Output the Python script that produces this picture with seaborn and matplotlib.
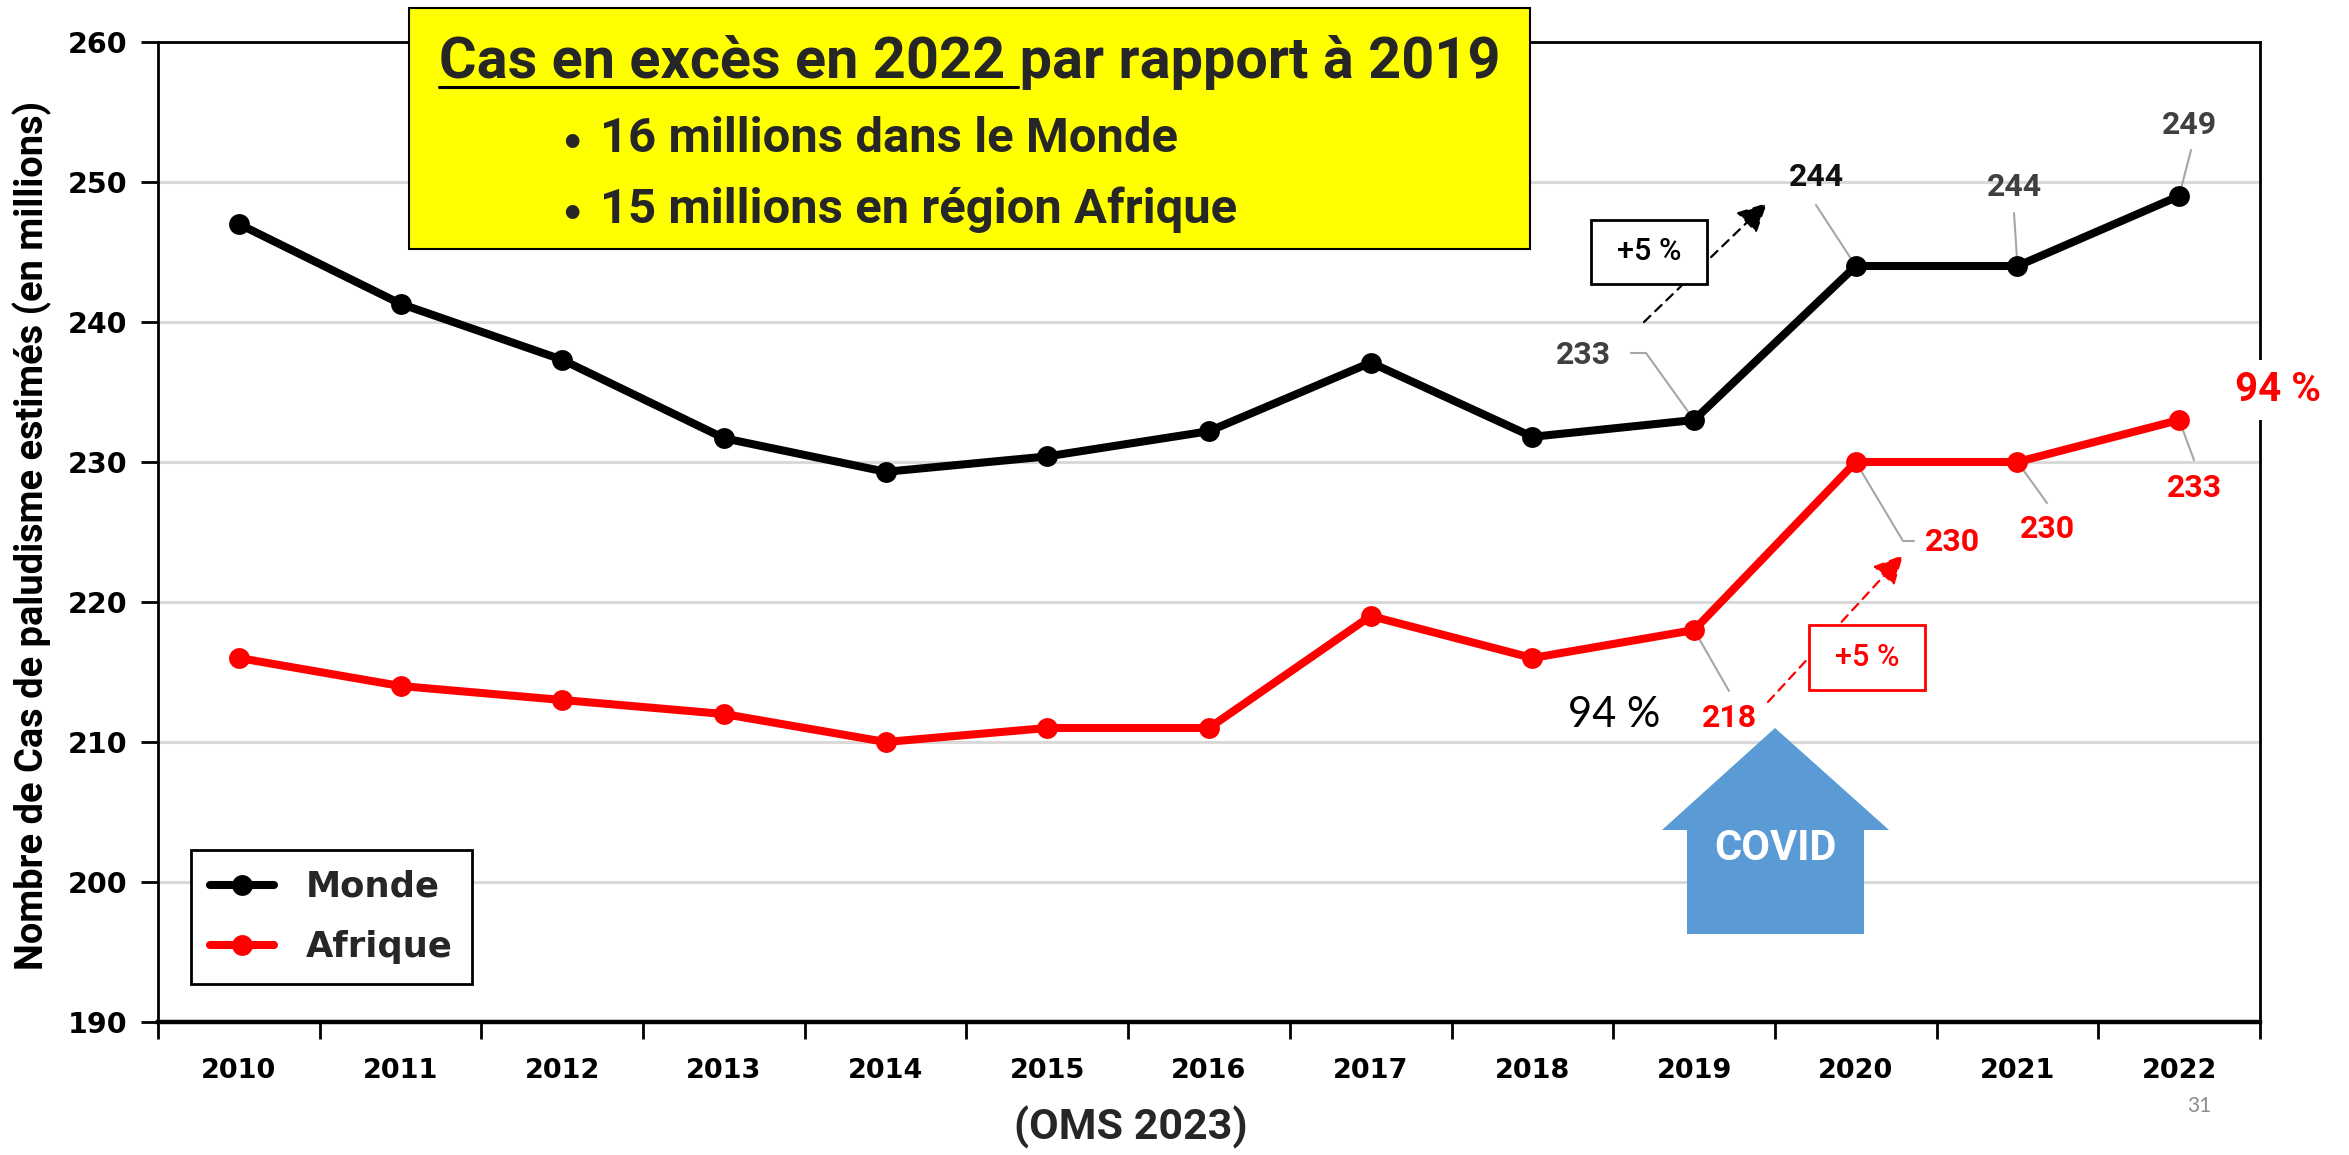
import matplotlib
matplotlib.use("Agg")
import matplotlib.pyplot as plt
from matplotlib.patches import Polygon, Rectangle
from matplotlib.lines import Line2D
import numpy as np
import pandas as pd
import seaborn as sns

# ---------------- data ----------------
years = ["2010", "2011", "2012", "2013", "2014", "2015", "2016",
         "2017", "2018", "2019", "2020", "2021", "2022"]
monde = [247.0, 241.3, 237.3, 231.7, 229.3, 230.4, 232.2, 237.1, 231.8, 233.0, 244.0, 244.0, 249.0]
afrique = [216.0, 214.0, 213.0, 212.0, 210.0, 211.0, 211.0, 219.0, 216.0, 218.0, 230.0, 230.0, 233.0]
series = ["Monde", "Afrique"]
series_colors = ["#000000", "#FF0000"]
y_ticks = [190, 200, 210, 220, 230, 240, 250, 260]
monde_labels = ["233", "244", "244", "249"]      # 2019..2022
afrique_labels = ["218", "230", "230", "233"]    # 2019..2022
title_main = "Cas en excès en 2022 par rapport à 2019"
title_underlined = "Cas en excès en 2022"
bullets = ["16 millions dans le Monde", "15 millions en région Afrique"]
y_label = "Nombre de Cas de paludisme estimés (en millions)"
pct_text = "+5 %"
share_text = "94 %"
covid_text = "COVID"
source = "(OMS 2023)"
page = "31"

# ---------------- figure ----------------
W, H = 2349, 1155
sns.set_theme(style="white")
plt.rcParams["font.family"] = ["DejaVu Sans"]
CAL = ["Roboto", "DejaVu Sans"]
CALR = ["Lato", "DejaVu Sans"]
BOLD = "bold"

fig = plt.figure(figsize=(W / 100, H / 100), dpi=100)
fig.patch.set_facecolor("white")
ax = fig.add_axes([158 / W, 1 - 1022 / H, (2260 - 158) / W, (1022 - 42) / H])
renderer = fig.canvas.get_renderer()

pos = np.arange(len(years))
df = pd.DataFrame({
    "pos": np.tile(pos, 2),
    "val": np.concatenate([monde, afrique]),
    "serie": np.repeat(series, len(years)),
})
sns.lineplot(data=df, x="pos", y="val", hue="serie",
             palette=dict(zip(series, series_colors)),
             marker="o", markersize=15, markeredgewidth=0,
             linewidth=5.8, legend=False, ax=ax, zorder=3)

ax.set_xlim(-0.5, len(years) - 0.5)
ax.set_ylim(y_ticks[0], y_ticks[-1])
ax.set_yticks(y_ticks)
ax.set_xticks(np.arange(-0.5, len(years), 1.0))
ax.set_xticklabels([])
ax.set_xticks(pos, minor=True)
ax.set_xticklabels(years, minor=True)
ax.tick_params(axis="x", which="major", direction="out", length=12, width=2,
               color="black", bottom=True)
ax.tick_params(axis="x", which="minor", length=0, pad=26, labelsize=19.5,
               labelcolor="black", bottom=True)
ax.tick_params(axis="y", direction="out", length=12, width=2, pad=10,
               labelsize=20.5, left=True, color="black", labelcolor="black")
for lbl in ax.get_xticklabels(minor=True) + ax.get_yticklabels():
    lbl.set_fontweight("bold")
ax.set_xlabel("")
ax.yaxis.grid(True, color="#d9d9d9", linewidth=2.2)
ax.xaxis.grid(False)
ax.set_axisbelow(True)
for s in ax.spines.values():
    s.set_visible(True)
    s.set_color("black")
    s.set_linewidth(2.0)
ax.spines["bottom"].set_linewidth(3.2)

ylab = ax.set_ylabel(y_label, fontfamily=CAL, fontweight=BOLD, fontsize=22, color="black")
ax.yaxis.set_label_coords(-0.0504, 0.497)
bb = ylab.get_window_extent(renderer)
ylab.set_fontsize(22 * 870 / bb.height)


def to_data(px, py):
    return tuple(ax.transData.inverted().transform((px, H - py)))


def fx(px):
    return px / W


def fy(py):
    return 1 - py / H


LEAD = "#a6a6a6"

# ---------------- value labels with leader lines ----------------
m_specs = [  # (text px, leader pixel points, color)
    ((1583, 355), [(1631, 353), (1646, 353)], "#404040"),
    ((1816, 177), [(1816, 205)], "#111111"),
    ((2014, 187), [(2014, 213)], "#404040"),
    ((2189, 125), [(2191, 150)], "#404040"),
]
for k, (tp, lead, col) in enumerate(m_specs):
    i = 9 + k
    pts = [to_data(*p) for p in lead] + [(pos[i], monde[i])]
    ax.plot([p[0] for p in pts], [p[1] for p in pts], color=LEAD, lw=1.5, zorder=2.9)
    ax.text(*to_data(*tp), monde_labels[k], ha="center", va="center", fontsize=23,
            fontweight=BOLD, family=CAL, color=col, zorder=6, clip_on=False)

a_specs = [
    ((1729, 718), [(1729, 691)]),
    ((1952, 542), [(1914, 541), (1903, 541)]),
    ((2047, 529), [(2047, 503)]),
    ((2194, 488), [(2194, 460)]),
]
for k, (tp, lead) in enumerate(a_specs):
    i = 9 + k
    pts = [to_data(*p) for p in lead] + [(pos[i], afrique[i])]
    ax.plot([p[0] for p in pts], [p[1] for p in pts], color=LEAD, lw=1.5, zorder=2.9)
    ax.text(*to_data(*tp), afrique_labels[k], ha="center", va="center", fontsize=23,
            fontweight=BOLD, family=CAL, color="#FF0000", zorder=6, clip_on=False)


# ---------------- +5 % boxes and dashed arrows ----------------
def dashed_arrow(p0, p1, col):
    ax.annotate("", xy=to_data(*p1), xytext=to_data(*p0),
                arrowprops=dict(arrowstyle="-|>,head_length=0.9,head_width=0.45",
                                linestyle=(0, (4, 3)), lw=1.6, color=col,
                                mutation_scale=20, shrinkA=0, shrinkB=0),
                zorder=4)


def pct_box(x0, y0, x1, y1, col):
    (dx0, dy1) = to_data(x0, y0)
    (dx1, dy0) = to_data(x1, y1)
    ax.add_patch(Rectangle((dx0, dy0), dx1 - dx0, dy1 - dy0, fc="white", ec=col,
                           lw=2, zorder=5, clip_on=False))
    ax.text((dx0 + dx1) / 2, (dy0 + dy1) / 2, pct_text, ha="center", va="center",
            fontsize=22, fontweight="medium", family=CAL, color=col, zorder=6)


dashed_arrow((1644, 322), (1767, 203), "black")
pct_box(1591, 220, 1707, 284, "black")
dashed_arrow((1768, 702), (1903, 555), "#FF0000")
pct_box(1809, 625, 1925, 690, "#FF0000")

# ---------------- 94 % texts ----------------
ax.text(*to_data(1614, 715), share_text, ha="center", va="center", fontsize=30,
        family=CALR, color="black", zorder=6)
ax.text(*to_data(2278, 390), share_text, ha="center", va="center", fontsize=29,
        fontweight=BOLD, family=CAL, color="#FF0000", zorder=10, clip_on=False,
        bbox=dict(fc="white", ec="none", pad=8))

# ---------------- COVID arrow ----------------
arrow_px = [(1775, 728), (1889, 830), (1864, 830), (1864, 934),
            (1687, 934), (1687, 830), (1662, 830)]
ax.add_patch(Polygon([to_data(*p) for p in arrow_px], closed=True, fc="#5B9BD5",
                     ec="none", zorder=4))
ax.text(*to_data(1775, 848), covid_text, ha="center", va="center", fontsize=30,
        fontweight=BOLD, family=CAL, color="white", zorder=6)

# ---------------- legend ----------------
handles = [Line2D([], [], color=c, lw=5.8, marker="o", markersize=15, markeredgewidth=0)
           for c in series_colors]
leg = ax.legend(handles, series, loc="lower left", bbox_to_anchor=(0.0157, 0.0388),
                borderaxespad=0, frameon=True, fancybox=False, edgecolor="black",
                framealpha=1, prop=dict(family="DejaVu Sans", weight="bold", size=25.5),
                handlelength=1.8, handletextpad=0.9, borderpad=0.55, labelspacing=0.75)
leg.get_frame().set_linewidth(2)
leg.set_zorder(7)

# ---------------- yellow box ----------------
fig.add_artist(Rectangle((fx(409), fy(249)), fx(1530) - fx(409), fy(8) - fy(249),
                         transform=fig.transFigure, fc="#FFFF00", ec="black", lw=1.5,
                         zorder=5))
tt = fig.text(fx(970), fy(78), title_main, ha="center", va="baseline", fontsize=40,
              fontweight=BOLD, family=CAL, zorder=6)
bb = tt.get_window_extent(renderer)
tt.set_fontsize(40 * 1060 / bb.width)
bb = tt.get_window_extent(renderer)
pre = fig.text(0, 0, title_underlined, fontsize=tt.get_fontsize(), fontweight=BOLD,
               family=CAL)
pw = pre.get_window_extent(renderer).width
pre.remove()
fs_px = tt.get_fontsize() * 100 / 72
fig.add_artist(Line2D([fx(bb.x0), fx(bb.x0 + pw + 0.22 * fs_px)], [fy(87), fy(87)],
                      transform=fig.transFigure, color="black", lw=2.2, zorder=6))

b_texts = []
for j, (txt, base) in enumerate(zip(bullets, [152, 223])):
    t = fig.text(fx(600), fy(base), txt, ha="left", va="baseline", fontsize=32,
                 fontweight=BOLD, family=CAL, zorder=6)
    b_texts.append(t)
w0 = b_texts[0].get_window_extent(renderer).width
bfs = 32 * 578 / w0
for t, base in zip(b_texts, [152, 223]):
    t.set_fontsize(bfs)
    fig.text(fx(572), fy(base), "•", ha="center", va="baseline", fontsize=bfs * 0.75,
             family=CALR, zorder=6)

# ---------------- footer ----------------
fig.text(fx(1131), fy(1127), source, ha="center", va="center", fontsize=31,
         fontweight=BOLD, family=CAL)
fig.text(fx(2199), fy(1106), page, ha="center", va="center", fontsize=15,
         family=CALR, color="#8c8c8c")

fig.savefig("out.png", dpi=100, facecolor="white")
